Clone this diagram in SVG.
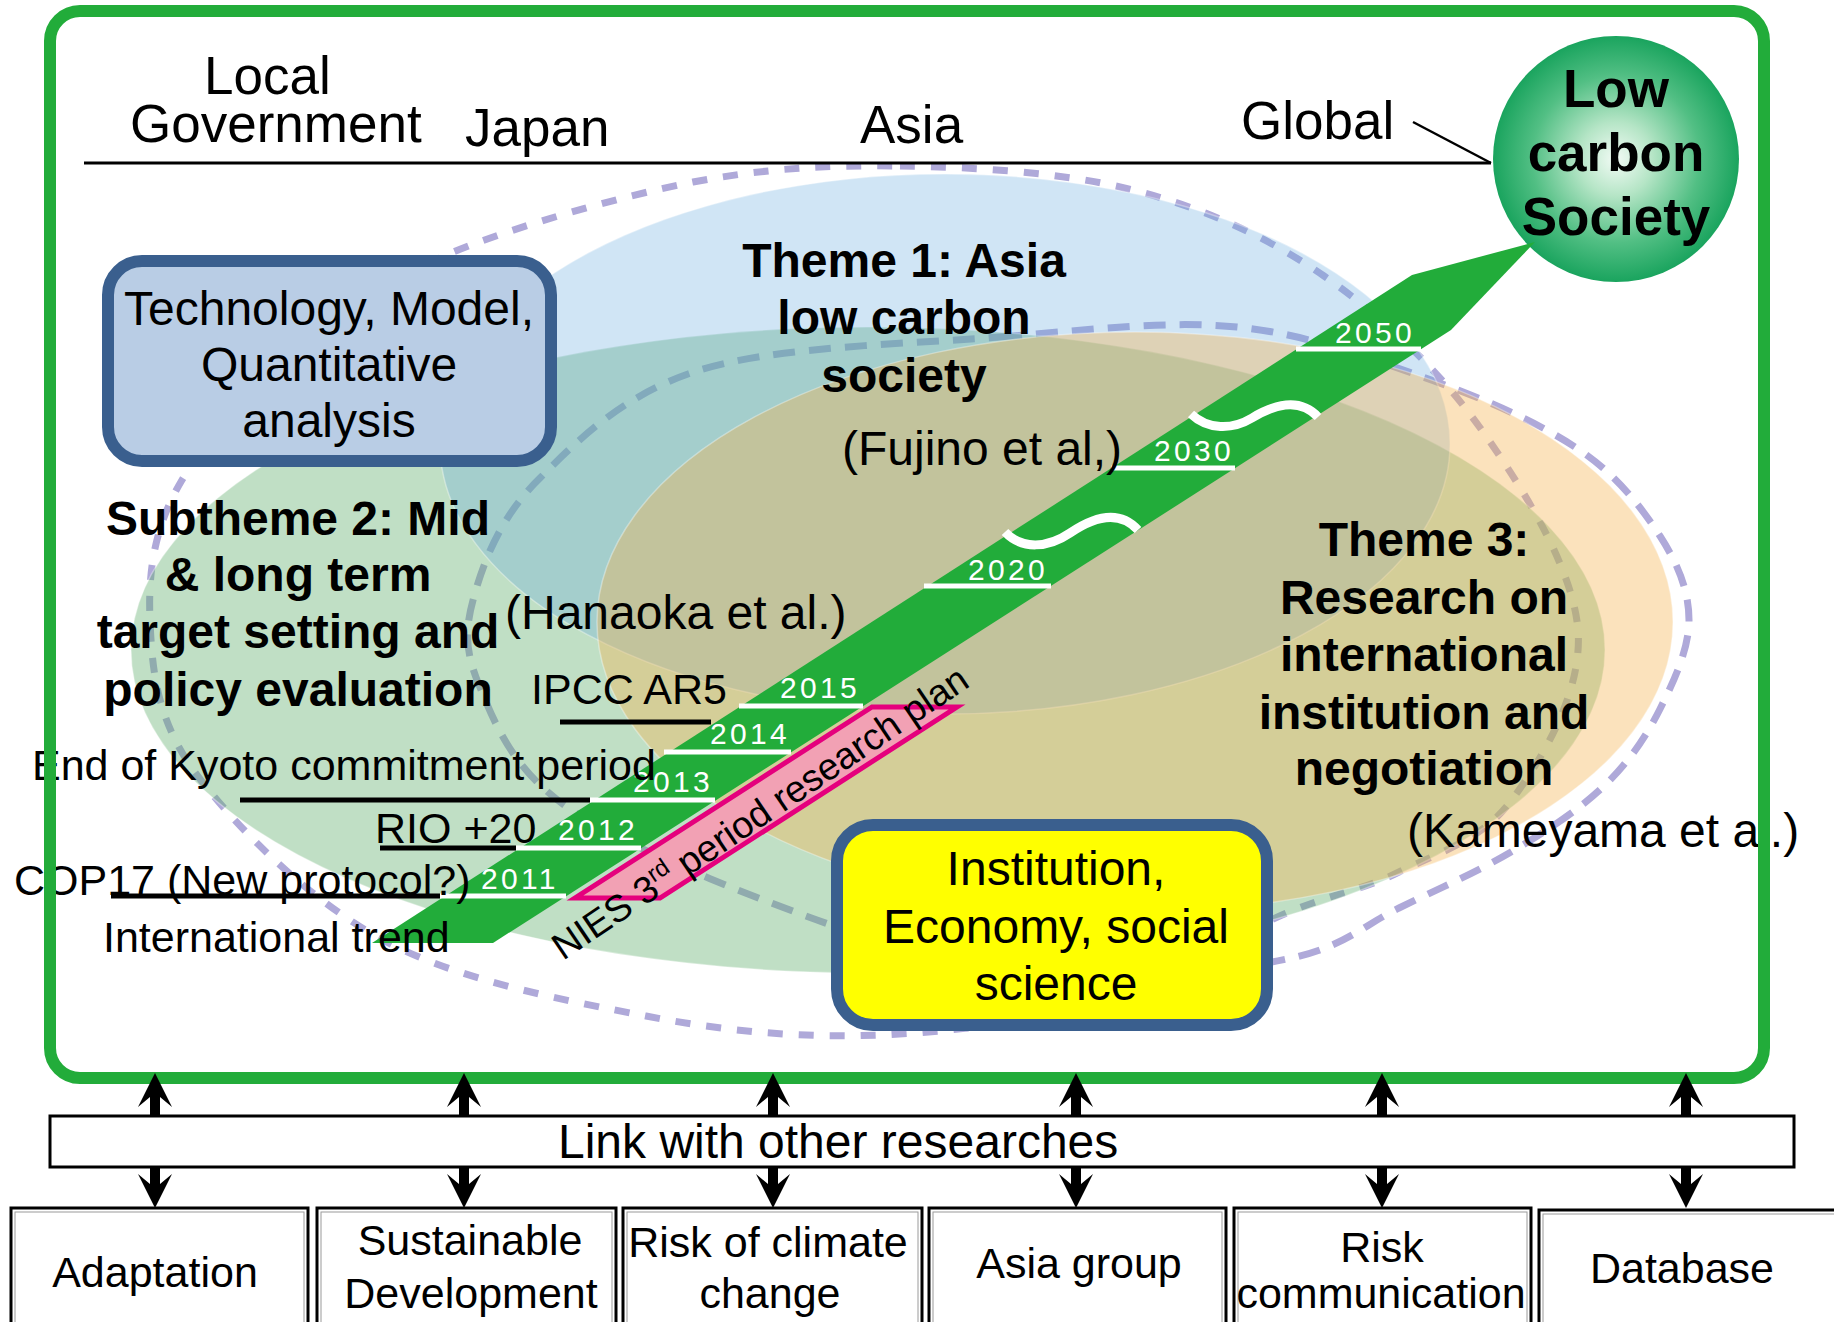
<svg xmlns="http://www.w3.org/2000/svg" width="1834" height="1322" viewBox="0 0 1834 1322">
<defs>
  <radialGradient id="lcsGrad" cx="0.5" cy="0.5" r="0.5">
    <stop offset="0" stop-color="#F2FBF5"/>
    <stop offset="0.3" stop-color="#B5E5C6"/>
    <stop offset="0.68" stop-color="#52BF84"/>
    <stop offset="1" stop-color="#1AA45E"/>
  </radialGradient>
  <style>
    text { font-family: "Liberation Sans", Arial, sans-serif; fill: #000; }
    .hdr { font-size: 53px; }
    .lbl { font-size: 43px; }
    .ref { font-size: 48px; }
    .theme { font-size: 48px; font-weight: bold; text-anchor: middle; }
    .box { font-size: 48px; text-anchor: middle; }
    .year { font-size: 30px; fill: #fff; letter-spacing: 3.3px; }
    .yl { stroke: #fff; stroke-width: 5; }
    .ul { stroke: #000; stroke-width: 5; }
    .bot { font-size: 43px; text-anchor: middle; }
    .dashP { fill: none; stroke: #AFA9D9; stroke-width: 7; stroke-dasharray: 15 16; }
    .dashQ { fill: none; stroke: #AFA9D9; stroke-width: 7; stroke-dasharray: 22 14; }
    .area { stroke: #fff; stroke-opacity: 0.35; stroke-width: 1.5; }
    .navy { stroke: #3A5F8E; stroke-width: 12; }
    .arrow { fill: #000; }
    .rbox { fill: #fff; stroke: #000; stroke-width: 3; }
    .rin { fill: none; stroke: #9a9a9a; stroke-width: 1; }
    .squig { fill: none; stroke: #fff; stroke-width: 9; }
  </style>
</defs>

<rect width="1834" height="1322" fill="#fff"/>

<!-- dashed scope outlines, drawn beneath the translucent theme areas -->
<g id="scope-outlines">
  <path class="dashP" d="M900,166 C973,167 1062,172 1133,190 C1204,208 1266,236 1324,276 C1382,316 1439,370 1481,429 C1523,488 1573,568 1578,630 C1583,692 1541,761 1511,801 C1481,841 1437,853 1399,872 C1361,891 1330,894 1282,915 C1234,936 1177,980 1110,1000 C1043,1020 957,1032 880,1035 C803,1038 729,1032 646,1016 C563,1000 456,980 381,939 C306,898 233,824 194,771 C156,718 152,668 150,620 C148,572 154,527 182,480 C210,433 275,378 320,340 C365,302 389,279 451,253 C513,227 618,197 693,182 C768,168 827,165 900,166 Z"/>
  <path class="dashQ" d="M1000,337 C1089,330 1166,320 1237,327 C1307,334 1366,357 1423,377 C1480,397 1538,422 1578,449 C1617,475 1641,507 1660,536 C1678,564 1689,591 1689,620 C1689,649 1674,681 1660,709 C1646,737 1629,762 1604,786 C1579,810 1545,832 1511,852 C1477,872 1436,890 1399,908 C1362,926 1345,947 1287,959 C1229,971 1128,986 1050,980 C972,974 897,949 817,920 C737,891 623,846 567,807 C511,768 494,721 479,685 C464,649 465,627 475,593 C485,558 502,515 540,478 C577,441 623,394 700,370 C777,346 910,344 1000,337 Z"/>
</g>

<!-- research theme areas -->
<g id="theme-areas">
  <ellipse id="subtheme2-area" class="area" cx="868" cy="650" rx="737" ry="323" fill="#62AF6E" fill-opacity="0.4"/>
  <ellipse id="theme1-area" class="area" cx="945" cy="444" rx="505" ry="270" fill="#62A8DE" fill-opacity="0.3"/>
  <ellipse id="theme3-area" class="area" cx="1135" cy="622" rx="538" ry="290" fill="#F5B450" fill-opacity="0.38"/>
</g>

<!-- scale header -->
<g id="scale-header">
  <text class="hdr" x="204" y="94">Local</text>
  <text class="hdr" x="130" y="142">Government</text>
  <text class="hdr" x="465" y="146">Japan</text>
  <text class="hdr" x="860" y="143">Asia</text>
  <text class="hdr" x="1241" y="139">Global</text>
  <line x1="84" y1="163" x2="1491" y2="163" stroke="#000" stroke-width="3"/>
  <line x1="1413" y1="122" x2="1491" y2="163" stroke="#000" stroke-width="2.5"/>
</g>

<!-- goal -->
<g id="low-carbon-society">
  <circle cx="1616" cy="159" r="123" fill="url(#lcsGrad)"/>
  <text x="1616" y="107" text-anchor="middle" font-size="53" font-weight="bold">Low</text>
  <text x="1616" y="171" text-anchor="middle" font-size="53" font-weight="bold">carbon</text>
  <text x="1616" y="235" text-anchor="middle" font-size="53" font-weight="bold">Society</text>
</g>

<!-- method boxes -->
<g id="technology-box">
  <rect class="navy" x="108" y="261" width="443" height="200" rx="34" fill="#B9CDE5"/>
  <text class="box" x="329" y="325">Technology, Model,</text>
  <text class="box" x="329" y="381">Quantitative</text>
  <text class="box" x="329" y="437">analysis</text>
</g>
<g id="institution-box">
  <rect class="navy" x="837" y="825" width="430" height="200" rx="36" fill="#FFFF00"/>
  <text class="box" x="1056" y="885">Institution,</text>
  <text class="box" x="1056" y="943">Economy, social</text>
  <text class="box" x="1056" y="1000">science</text>
</g>

<!-- timeline arrow towards 2050 -->
<g id="timeline">
  <polygon points="372,943 493,943 1451,330 1535,242 1412,275" fill="#22AC3A"/>
  <path class="squig" d="M1005,532 C1022,550 1048,548 1070,533 C1092,518 1118,508 1138,530"/>
  <path class="squig" d="M1191,414 C1208,430 1232,430 1252,418 C1272,406 1298,396 1318,417"/>
  <line class="yl" x1="440" y1="896" x2="566" y2="896"/>
  <line class="yl" x1="516" y1="848" x2="641" y2="848"/>
  <line class="yl" x1="590" y1="800" x2="715" y2="800"/>
  <line class="yl" x1="664" y1="752" x2="791" y2="752"/>
  <line class="yl" x1="739" y1="706" x2="863" y2="706"/>
  <line class="yl" x1="924" y1="586" x2="1051" y2="586"/>
  <line class="yl" x1="1111" y1="468" x2="1235" y2="468"/>
  <line class="yl" x1="1296" y1="349" x2="1421" y2="349"/>
  <text class="year" x="481" y="889">2011</text>
  <text class="year" x="558" y="840">2012</text>
  <text class="year" x="633" y="792">2013</text>
  <text class="year" x="710" y="744">2014</text>
  <text class="year" x="780" y="698">2015</text>
  <text class="year" x="968" y="580">2020</text>
  <text class="year" x="1154" y="461">2030</text>
  <text class="year" x="1335" y="343">2050</text>
</g>

<!-- international trend milestones -->
<g id="milestones">
  <line class="ul" x1="560" y1="722" x2="711" y2="722"/>
  <line class="ul" x1="240" y1="800" x2="590" y2="800"/>
  <line class="ul" x1="380" y1="848" x2="516" y2="848"/>
  <line class="ul" x1="111" y1="896" x2="440" y2="896"/>
  <text class="lbl" x="531" y="704">IPCC AR5</text>
  <text class="lbl" x="32" y="780">End of Kyoto commitment period</text>
  <text class="lbl" x="375" y="843">RIO +20</text>
  <text class="lbl" x="14" y="895">COP17 (New protocol?)</text>
  <text class="lbl" x="103" y="952">International trend</text>
</g>

<!-- NIES research plan period -->
<g id="nies-plan">
  <polygon points="575,898 660,898 957,707 872,707" fill="#F2A1B4" stroke="#E5007D" stroke-width="5" stroke-linejoin="miter"/>
  <text x="563" y="961" font-size="37.5" transform="rotate(-34 563 961)">NIES 3<tspan font-size="24" dy="-14">rd</tspan><tspan dy="14"> period research plan</tspan></text>
</g>

<!-- theme labels -->
<g id="theme1">
  <text class="theme" x="904" y="277">Theme 1: Asia</text>
  <text class="theme" x="904" y="334">low carbon</text>
  <text class="theme" x="904" y="392">society</text>
  <text class="ref" x="842" y="465">(Fujino et al,)</text>
</g>
<g id="subtheme2">
  <text class="theme" x="298" y="535">Subtheme 2: Mid</text>
  <text class="theme" x="298" y="591">&amp; long term</text>
  <text class="theme" x="298" y="648">target setting and</text>
  <text class="theme" x="298" y="706">policy evaluation</text>
  <text class="ref" x="505" y="629">(Hanaoka et al.)</text>
</g>
<g id="theme3">
  <text class="theme" x="1424" y="556">Theme 3:</text>
  <text class="theme" x="1424" y="614">Research on</text>
  <text class="theme" x="1424" y="671">international</text>
  <text class="theme" x="1424" y="729">institution and</text>
  <text class="theme" x="1424" y="785">negotiation</text>
  <text class="ref" x="1407" y="847">(Kameyama et al.)</text>
</g>

<!-- project frame -->
<rect id="project-frame" x="50" y="11" width="1714" height="1067" rx="30" fill="none" stroke="#22AC3A" stroke-width="12"/>

<!-- linked research -->
<g id="link-box">
  <rect class="rbox" x="50" y="1116" width="1744" height="51"/>
  <text x="558" y="1158" font-size="48">Link with other researches</text>
</g>
<g id="box-adaptation">
  <rect class="rbox" x="11" y="1208" width="297" height="140"/>
  <rect class="rin" x="15" y="1212" width="289" height="140"/>
  <text class="bot" x="155" y="1287">Adaptation</text>
</g>
<g id="box-sustainable">
  <rect class="rbox" x="317" y="1208" width="299" height="140"/>
  <rect class="rin" x="321" y="1212" width="291" height="140"/>
  <text class="bot" x="470" y="1255">Sustainable</text>
  <text class="bot" x="471" y="1308">Development</text>
</g>
<g id="box-risk-climate">
  <rect class="rbox" x="623" y="1208" width="299" height="140"/>
  <rect class="rin" x="627" y="1212" width="291" height="140"/>
  <text class="bot" x="768" y="1257">Risk of climate</text>
  <text class="bot" x="770" y="1308">change</text>
</g>
<g id="box-asia-group">
  <rect class="rbox" x="929" y="1208" width="297" height="140"/>
  <rect class="rin" x="933" y="1212" width="289" height="140"/>
  <text class="bot" x="1079" y="1278">Asia group</text>
</g>
<g id="box-risk-communication">
  <rect class="rbox" x="1234" y="1208" width="297" height="140"/>
  <rect class="rin" x="1238" y="1212" width="289" height="140"/>
  <text class="bot" x="1382" y="1262">Risk</text>
  <text class="bot" x="1381" y="1308">communication</text>
</g>
<g id="box-database">
  <rect class="rbox" x="1539" y="1210" width="310" height="140"/>
  <rect class="rin" x="1543" y="1214" width="300" height="140"/>
  <text class="bot" x="1682" y="1283">Database</text>
</g>

<!-- two-way links -->
<g id="connectors">
  <defs>
    <path id="upArrow" d="M0,1073 L17,1107 L5,1097 L5,1116 L-5,1116 L-5,1097 L-17,1107 Z"/>
    <path id="downArrow" d="M0,1208 L17,1174 L5,1184 L5,1167 L-5,1167 L-5,1184 L-17,1174 Z"/>
  </defs>
  <use href="#upArrow" class="arrow" x="155"/>
  <use href="#downArrow" class="arrow" x="155"/>
  <use href="#upArrow" class="arrow" x="464"/>
  <use href="#downArrow" class="arrow" x="464"/>
  <use href="#upArrow" class="arrow" x="773"/>
  <use href="#downArrow" class="arrow" x="773"/>
  <use href="#upArrow" class="arrow" x="1076"/>
  <use href="#downArrow" class="arrow" x="1076"/>
  <use href="#upArrow" class="arrow" x="1382"/>
  <use href="#downArrow" class="arrow" x="1382"/>
  <use href="#upArrow" class="arrow" x="1686"/>
  <use href="#downArrow" class="arrow" x="1686"/>
</g>
</svg>
